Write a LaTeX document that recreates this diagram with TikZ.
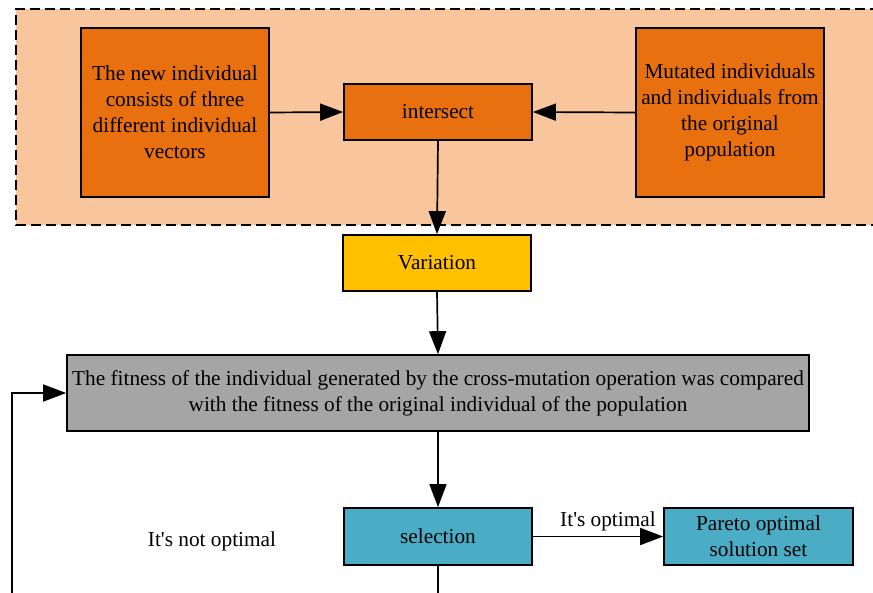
\documentclass[tikz,border=0pt]{standalone}
\usepackage{fontspec}
\setmainfont{Liberation Serif}
\usetikzlibrary{arrows.meta}
\definecolor{peach}{HTML}{F8C59C}
\definecolor{orng}{HTML}{E9700F}
\definecolor{yel}{HTML}{FFC000}
\definecolor{gry}{HTML}{A5A5A5}
\definecolor{tealb}{HTML}{4BACC6}
\begin{document}
\begin{tikzpicture}[x=1pt,y=-1pt,
  box/.style={draw=black, line width=1.7pt, align=center, inner sep=0pt, font=\fontsize{21.3}{26}\selectfont},
  lbl/.style={font=\fontsize{21.3}{26}\selectfont, inner sep=0pt},
  arr/.style={-{Triangle[length=23pt,width=17pt]}, line width=1.7pt},
  ln/.style={line width=1.7pt}]
\useasboundingbox (0,0) rectangle (873,592);
\fill[peach] (16,9) rectangle (880,225);
\draw[line width=1.7pt, dash pattern=on 10pt off 5pt] (880,9) -- (16,9) -- (16,225) -- (880,225);
\node[box, fill=orng, minimum width=188pt, minimum height=169pt] (new) at (175,112.5) {The new individual\\consists of three\\different individual\\vectors};
\node[box, fill=orng, minimum width=188pt, minimum height=56pt] (inter) at (438,112) {intersect};
\node[box, fill=orng, minimum width=188pt, minimum height=169pt] (mut) at (730,112.5) {Mutated individuals\\and individuals from\\the original\\population};
\node[box, fill=yel, minimum width=188pt, minimum height=56pt] (var) at (437,263) {Variation};
\node[box, fill=gry, minimum width=742pt, minimum height=76pt] (fit) at (438,393) {The fitness of the individual generated by the cross-mutation operation was compared\\with the fitness of the original individual of the population};
\node[box, fill=tealb, minimum width=188pt, minimum height=57pt] (sel) at (438,536.5) {selection};
\node[box, fill=tealb, minimum width=189pt, minimum height=57pt] (par) at (758.5,536.5) {Pareto optimal\\solution set};
\node[lbl] (notopt) at (212,541) {It\textquotesingle s not optimal};
\node[lbl] (opt) at (608,521) {It\textquotesingle s optimal};
\coordinate (bs) at (438,600);
\coordinate (bl) at (12,600);
\coordinate (cl) at (12,393);
\draw[arr] (new.east) -- (inter.west);
\draw[arr] (mut.west) -- (inter.east);
\draw[arr] (inter.south) -- (var.north);
\draw[arr] (var.south) -- (fit.north);
\draw[arr] (fit.south) -- (sel.north);
\draw[arr] (sel.east) -- (par.west);
\draw[ln] (sel.south) -- (bs);
\draw[arr] (bl) -- (cl) -- (fit.west);
\end{tikzpicture}
\end{document}
